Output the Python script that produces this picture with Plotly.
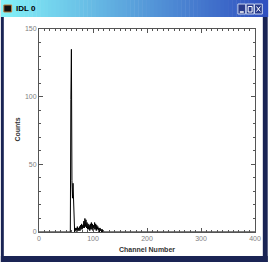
import plotly.graph_objects as go

# ---- data ----
start_channel = 56
counts = [0, 0, 0, 98, 135, 38, 25, 36, 20, 2,
          0, 3, 1, 3, 0, 4, 1, 3, 1, 4,
          1, 5, 2, 6, 2, 5, 3, 8, 3, 10,
          4, 9, 3, 7, 2, 6, 2, 5, 1, 6,
          2, 7, 2, 6, 1, 5, 2, 7, 2, 6,
          1, 5, 2, 4, 1, 3, 0, 3, 1, 2,
          0, 2, 0, 1, 0]
channels = [0] + [start_channel + i for i in range(len(counts))] + [400]
values = [0] + counts + [0]

x_ticks = [0, 100, 200, 300, 400]
y_ticks = [0, 50, 100, 150]
window_title = "IDL 0"
x_title = "Channel Number"
y_title = "Counts"

W, H = 273, 262
L, R, T, B = 39, 13, 29, 30
pw, ph = W - L - R, H - T - B


def px(x):
    return (x - L) / pw


def py(y):
    return (H - B - y) / ph


fig = go.Figure()
fig.add_trace(go.Scatter(x=channels, y=values, mode="lines",
                         line=dict(color="black", width=1), hoverinfo="skip"))

shapes = []
# window borders
navy = "#1a2454"
shapes.append(dict(type="rect", xref="paper", yref="paper", x0=px(0), x1=px(3), y0=py(262), y1=py(0),
                   fillcolor=navy, line_width=0, layer="above"))
shapes.append(dict(type="rect", xref="paper", yref="paper", x0=px(268), x1=px(273), y0=py(262), y1=py(0),
                   fillcolor=navy, line_width=0, layer="above"))
shapes.append(dict(type="rect", xref="paper", yref="paper", x0=px(0), x1=px(273), y0=py(262), y1=py(256),
                   fillcolor=navy, line_width=0, layer="above"))
# title bar gradient
c0 = (0x84, 0xf2, 0xf8)
c1 = (0x30, 0x50, 0xc0)
n = 68
for i in range(n):
    t = i / (n - 1)
    col = "rgb(%d,%d,%d)" % tuple(int(c0[k] + (c1[k] - c0[k]) * t) for k in range(3))
    x0 = W * i / n
    x1 = W * (i + 1) / n + 0.5
    shapes.append(dict(type="rect", xref="paper", yref="paper", x0=px(x0), x1=px(x1),
                       y0=py(17), y1=py(0), fillcolor=col, line_width=0, layer="above"))
# icon
shapes.append(dict(type="rect", xref="paper", yref="paper", x0=px(3), x1=px(11), y0=py(12), y1=py(5),
                   fillcolor="#111111", line=dict(color="#c08040", width=1), layer="above"))
# buttons
for bx in [242.5, 251, 259.5]:
    shapes.append(dict(type="rect", xref="paper", yref="paper", x0=px(bx), x1=px(bx + 8), y0=py(14), y1=py(4),
                       fillcolor="#2a3c8c", line=dict(color="#c8d4f0", width=1), layer="above"))
# minimize glyph
shapes.append(dict(type="line", xref="paper", yref="paper", x0=px(244.5), x1=px(248.5), y0=py(12), y1=py(12),
                   line=dict(color="white", width=1.5), layer="above"))
# maximize glyph
shapes.append(dict(type="rect", xref="paper", yref="paper", x0=px(253), x1=px(257), y0=py(12), y1=py(6.5),
                   line=dict(color="white", width=1), layer="above"))
# close glyph
shapes.append(dict(type="line", xref="paper", yref="paper", x0=px(261.5), x1=px(265.5), y0=py(11.5), y1=py(6.5),
                   line=dict(color="white", width=1), layer="above"))
shapes.append(dict(type="line", xref="paper", yref="paper", x0=px(261.5), x1=px(265.5), y0=py(6.5), y1=py(11.5),
                   line=dict(color="white", width=1), layer="above"))

annotations = [
    dict(text="<b>%s</b>" % window_title, xref="paper", yref="paper", x=px(13), y=py(8.5),
         xanchor="left", yanchor="middle", showarrow=False, font=dict(size=8, color="black",
                                                                       family="Liberation Sans")),
    dict(text="<b>%s</b>" % x_title, xref="paper", yref="paper", x=px(150), y=py(249),
         xanchor="center", yanchor="middle", showarrow=False,
         font=dict(size=7, color="#333333", family="Liberation Sans")),
    dict(text="<b>%s</b>" % y_title, xref="paper", yref="paper", x=px(16), y=py(130),
         xanchor="center", yanchor="middle", showarrow=False, textangle=-90,
         font=dict(size=7, color="#333333", family="Liberation Sans")),
]

axis_common = dict(showline=True, linecolor="#555555", linewidth=1, mirror="allticks",
                   ticks="inside", ticklen=4, tickcolor="#555555", tickwidth=1,
                   showgrid=False, zeroline=False,
                   tickfont=dict(size=7, color="#808080", family="Liberation Sans"))

fig.update_layout(
    width=W, height=H,
    margin=dict(l=L, r=R, t=T, b=B),
    paper_bgcolor="white", plot_bgcolor="white",
    showlegend=False,
    shapes=shapes, annotations=annotations,
    xaxis=dict(range=[0, 400], tickvals=x_ticks, ticktext=[str(v) for v in x_ticks],
               minor=dict(dtick=10, tick0=0, ticks="inside", ticklen=2, tickcolor="#555555"),
               **axis_common),
    yaxis=dict(range=[0, 150], tickvals=y_ticks, ticktext=[str(v) for v in y_ticks],
               minor=dict(dtick=10, tick0=0, ticks="inside", ticklen=2, tickcolor="#555555"),
               **axis_common),
)

fig.write_html("out.html", config={"displayModeBar": False},
               post_script="document.body.style.margin='0px';document.body.style.overflow='hidden';")
